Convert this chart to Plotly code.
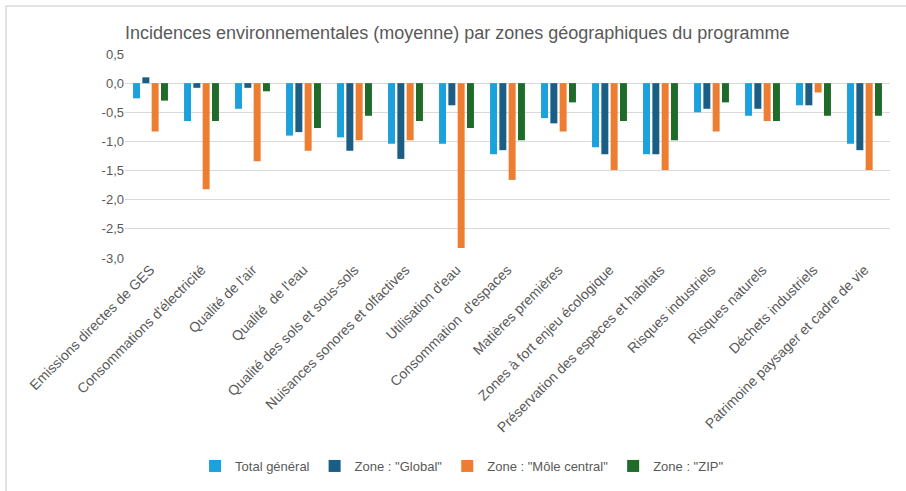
import plotly.graph_objects as go

categories = [
    "Emissions directes de GES",
    "Consommations d'électricité",
    "Qualité de l'air",
    "Qualité  de l'eau",
    "Qualité des sols et sous-sols",
    "Nuisances sonores et olfactives",
    "Utilisation d'eau",
    "Consommation  d'espaces",
    "Matières premières",
    "Zones à fort enjeu écologique",
    "Préservation des espèces et habitats",
    "Risques industriels",
    "Risques naturels",
    "Déchets industriels",
    "Patrimoine paysager et cadre de vie",
]

total_general = [-0.26, -0.65, -0.44, -0.90, -0.93, -1.04, -1.04, -1.22, -0.60, -1.10, -1.22, -0.50, -0.56, -0.38, -1.04]
zone_global = [0.10, -0.08, -0.08, -0.84, -1.16, -1.30, -0.38, -1.15, -0.69, -1.22, -1.22, -0.44, -0.44, -0.38, -1.15]
zone_mole = [-0.83, -1.82, -1.34, -1.16, -0.98, -0.98, -2.83, -1.66, -0.83, -1.49, -1.49, -0.83, -0.65, -0.16, -1.49]
zone_zip = [-0.30, -0.65, -0.14, -0.77, -0.56, -0.65, -0.77, -0.98, -0.33, -0.65, -0.98, -0.33, -0.65, -0.56, -0.56]

series_names = ["Total général", 'Zone : "Global"', 'Zone : "Môle central"', 'Zone : "ZIP"']
series_values = [total_general, zone_global, zone_mole, zone_zip]
colors = ["#1ba1dc", "#1b5e85", "#ed7d31", "#1e6b2a"]

y_tickvals = [0.5, 0.0, -0.5, -1.0, -1.5, -2.0, -2.5, -3.0]
y_ticktext = ["0,5", "0,0", "-0,5", "-1,0", "-1,5", "-2,0", "-2,5", "-3,0"]

W, H = 906, 491
L, R, T, B = 125, 16, 54, 233
font_family = "Liberation Sans, Arial, sans-serif"
gray = "#595959"

fig = go.Figure()
for name, vals, c in zip(series_names, series_values, colors):
    fig.add_trace(go.Bar(x=categories, y=vals, name=name, marker_color=c,
                         marker_line_width=0))

pw = W - L - R
ph = H - T - B
def px_x(x):
    return (x - L) / pw
def px_y(y):
    return (H - B - y) / ph

fig.update_layout(
    width=W, height=H,
    margin=dict(l=L, r=R, t=T, b=B),
    paper_bgcolor="white", plot_bgcolor="white",
    barmode="group", bargap=0.27, bargroupgap=0.25,
    font=dict(family=font_family, color=gray, size=12),
    title=dict(text="Incidences environnementales (moyenne) par zones géographiques du programme",
               x=L / W, xanchor="left", xref="container",
               y=1 - 33 / H, yanchor="middle", yref="container",
               font=dict(size=18, color=gray, family=font_family)),
    xaxis=dict(tickangle=-45, showgrid=False, showline=False, ticks="",
               tickfont=dict(size=14, color=gray)),
    yaxis=dict(range=[-3.0, 0.5], tickvals=y_tickvals, ticktext=y_ticktext,
               showgrid=True, gridcolor="#d9d9d9", gridwidth=1,
               zeroline=True, zerolinecolor="#d9d9d9", zerolinewidth=1,
               showline=False, ticks="", ticklen=0, tickfont=dict(size=13, color=gray)),
    legend=dict(orientation="h", x=0.51, xanchor="center", xref="container",
                y=1 - 466 / H, yanchor="middle", yref="container",
                font=dict(size=13, color=gray), itemwidth=30, tracegroupgap=0),
    showlegend=True,
)

fig.add_shape(type="rect", xref="paper", yref="paper",
              x0=px_x(6), x1=px_x(W + 20), y0=px_y(H + 20), y1=px_y(6),
              line=dict(color="#d9d9d9", width=1.5), fillcolor="rgba(0,0,0,0)", layer="below")

fig.write_html("out.html", config={"displayModeBar": False},
               post_script="document.body.style.margin='0px';document.body.style.overflow='hidden';")
